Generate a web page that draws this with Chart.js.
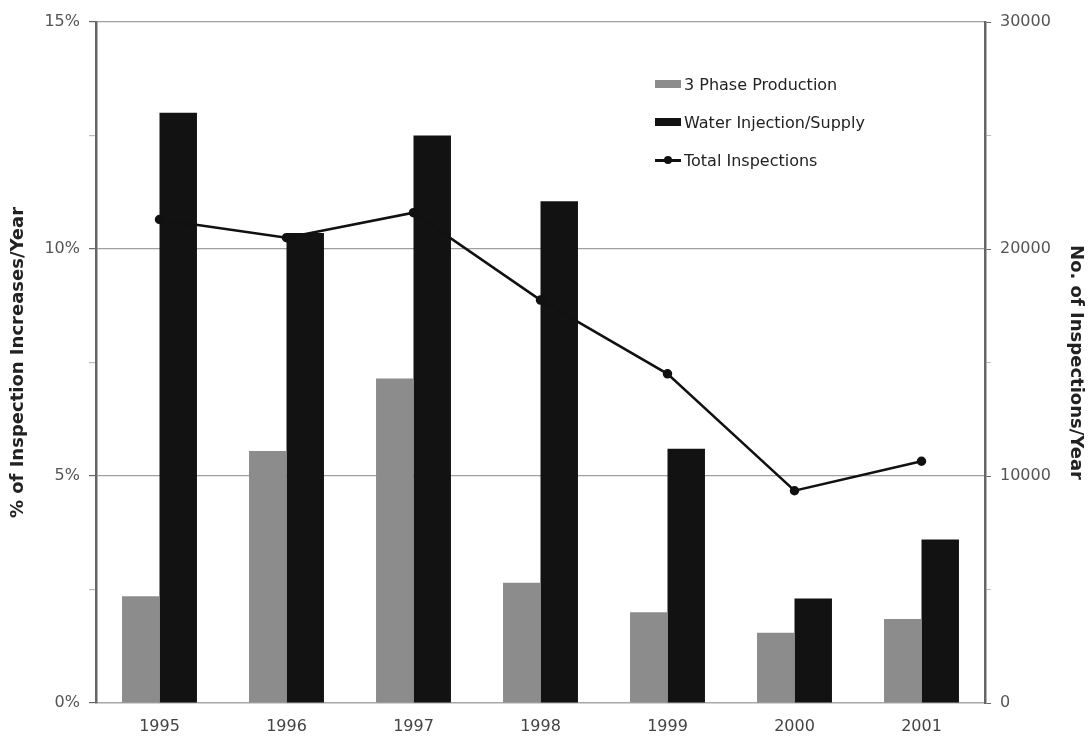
<!DOCTYPE html>
<html>
<head>
<meta charset="utf-8">
<script src="https://cdn.jsdelivr.net/npm/chart.js@4.4.0/dist/chart.umd.min.js"></script>
<style>
  body { margin: 0; background: #fff; }
  #wrap { position: relative; width: 1089px; height: 749px; }
  #legend { position: absolute; left: 655px; top: 65px; font: 16px "DejaVu Sans", sans-serif; color: #222; }
  .item { display: flex; align-items: center; height: 38px; }
  .sw { width: 26px; height: 8px; margin-right: 3px; position: relative; }
  .ln { width: 26px; height: 3px; margin-right: 3px; position: relative; }
  .ln span { position: absolute; left: 9px; top: -3px; width: 8px; height: 8px; border-radius: 50%; }
</style>
</head>
<body>
<div id="wrap">
  <canvas id="chart" width="1089" height="749"></canvas>
  <div id="legend"></div>
</div>
<script>
// Data
const years = ['1995', '1996', '1997', '1998', '1999', '2000', '2001'];
const threePhase = [2.35, 5.55, 7.15, 2.65, 2.0, 1.55, 1.85];        // % / year
const waterInjection = [13.0, 10.35, 12.5, 11.05, 5.6, 2.3, 3.6];   // % / year
const totalInspections = [21300, 20500, 21600, 17750, 14500, 9350, 10650];

const leftMajor = [0, 5, 10, 15];
const rightMajor = [0, 10000, 20000, 30000];

const tickFont = { family: '"DejaVu Sans", sans-serif', size: 16 };
const titleFont = { family: '"DejaVu Sans", sans-serif', size: 18, weight: 'bold' };

const ctx = document.getElementById('chart').getContext('2d');

const chart = new Chart(ctx, {
    type: 'bar',
    data: {
        labels: years,
        datasets: [
            {
                type: 'line',
                label: 'Total Inspections',
                data: totalInspections,
                yAxisID: 'y1',
                borderColor: '#111',
                backgroundColor: '#111',
                borderWidth: 2.5,
                pointRadius: 3.5,
                pointBackgroundColor: '#111',
                tension: 0,
                order: 0
            },
            {
                label: '3 Phase Production',
                data: threePhase,
                yAxisID: 'y',
                backgroundColor: '#8c8c8c',
                categoryPercentage: 0.59,
                barPercentage: 1.0,
                order: 1
            },
            {
                label: 'Water Injection/Supply',
                data: waterInjection,
                yAxisID: 'y',
                backgroundColor: '#121212',
                categoryPercentage: 0.59,
                barPercentage: 1.0,
                order: 1
            }
        ]
    },
    options: {
        responsive: false,
        animation: false,
        layout: { padding: { top: 22, left: 0, right: 0, bottom: 0 } },
        plugins: {
            legend: { display: false },
            tooltip: { enabled: false }
        },
        scales: {
            x: {
                grid: { drawOnChartArea: false, drawTicks: false },
                border: { color: '#a8a8a8', width: 1.5 },
                ticks: { font: tickFont, color: '#444', padding: 14 },
                afterFit: (s) => { s.height = 46; }
            },
            y: {
                position: 'left',
                min: 0,
                max: 15,
                grid: {
                    color: (c) => (c.tick && c.tick.value > 0 && leftMajor.includes(c.tick.value)) ? '#a0a0a0' : 'rgba(0,0,0,0)',
                    tickColor: (c) => (c.tick && leftMajor.includes(c.tick.value)) ? '#666' : '#bbb',
                    tickLength: 7,
                    lineWidth: 1.2
                },
                border: { color: '#666', width: 2.5 },
                ticks: {
                    stepSize: 2.5,
                    font: tickFont,
                    color: '#555',
                    padding: 9,
                    callback: (v) => leftMajor.includes(v) ? v + '%' : ''
                },
                title: {
                    display: true,
                    text: '% of Inspection Increases/Year',
                    font: titleFont,
                    color: '#222',
                    padding: { top: 8, bottom: 0 }
                },
                afterFit: (s) => { s.width = 96; }
            },
            y1: {
                position: 'right',
                min: 0,
                max: 30000,
                grid: {
                    drawOnChartArea: false,
                    tickColor: (c) => (c.tick && rightMajor.includes(c.tick.value)) ? '#666' : '#bbb',
                    tickLength: 6
                },
                border: { color: '#666', width: 2.5 },
                ticks: {
                    stepSize: 5000,
                    font: tickFont,
                    color: '#555',
                    padding: 9,
                    callback: (v) => rightMajor.includes(v) ? String(v) : ''
                },
                title: {
                    display: true,
                    text: 'No. of Inspections/Year',
                    font: titleFont,
                    color: '#222',
                    padding: { top: 3, bottom: 0 }
                },
                afterFit: (s) => { s.width = 104; }
            }
        }
    }
});

// HTML legend, in the order shown in the picture
const legend = document.getElementById('legend');
[1, 2, 0].forEach((i) => {
    const ds = chart.data.datasets[i];
    const row = document.createElement('div');
    row.className = 'item';
    const mark = document.createElement('div');
    if (ds.type === 'line') {
        mark.className = 'ln';
        mark.style.background = ds.borderColor;
        const dot = document.createElement('span');
        dot.style.background = ds.borderColor;
        mark.appendChild(dot);
    } else {
        mark.className = 'sw';
        mark.style.background = ds.backgroundColor;
    }
    const txt = document.createElement('span');
    txt.textContent = ds.label;
    row.appendChild(mark);
    row.appendChild(txt);
    legend.appendChild(row);
});
</script>
</body>
</html>
